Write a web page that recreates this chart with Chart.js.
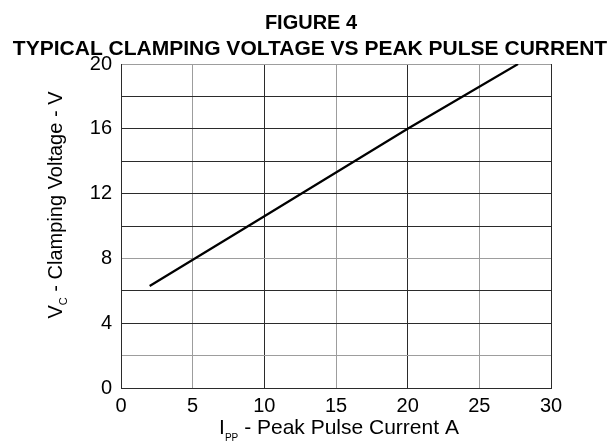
<!DOCTYPE html>
<html>
<head>
<meta charset="utf-8">
<script src="https://cdn.jsdelivr.net/npm/chart.js@4"></script>
<style>
  html, body { margin: 0; padding: 0; background: #fff; }
  canvas { display: block; }
</style>
</head>
<body>
<canvas id="fig4" width="613" height="446"></canvas>
<script>
// Figure 4 - typical clamping voltage vs peak pulse current

// values
const peakCurrentA = [2, 10, 20, 27.7];
const clampVoltageV = [6.3, 10.6, 16.0, 20];

// axis ticks
const currentTicks = [0, 5, 10, 15, 20, 25, 30];
const voltageTickLabels = [0, 4, 8, 12, 16, 20];
const voltageGridStep = 2;

const titleLines = ['FIGURE 4', 'TYPICAL CLAMPING VOLTAGE VS PEAK PULSE CURRENT'];

const FONT = '"Liberation Sans", Arial, Helvetica, sans-serif';
const DARK = '#2b2b2b';
const LIGHT = '#9d9d9d';

// text pieces: [text, font size, baseline shift]
function drawPieces(ctx, pieces, cx, baseY) {
  let total = 0;
  pieces.forEach(p => {
    ctx.font = p[1] + 'px ' + FONT;
    p.w = ctx.measureText(p[0]).width;
    total += p.w;
  });
  let x = cx - total / 2;
  ctx.textAlign = 'left';
  ctx.textBaseline = 'alphabetic';
  pieces.forEach(p => {
    ctx.font = p[1] + 'px ' + FONT;
    ctx.fillText(p[0], x, baseY + p[2]);
    x += p.w;
  });
}

// titles drawn by hand: the heading is centred on the whole page,
// and the axis titles need subscripts (V_C, I_PP)
const figureText = {
  id: 'figureText',
  afterDraw(chart) {
    const { ctx, chartArea } = chart;
    ctx.save();
    ctx.fillStyle = '#000';
    ctx.textAlign = 'center';
    ctx.textBaseline = 'alphabetic';
    ctx.font = 'bold 20px ' + FONT;
    ctx.fillText(titleLines[0], 311, 29);
    ctx.font = 'bold 21px ' + FONT;
    ctx.fillText(titleLines[1], 310, 55);

    const midX = (chartArea.left + chartArea.right) / 2;
    drawPieces(ctx, [['I', 21, 0], ['PP', 10, 7], [' - Peak Pulse Current A', 21, 0]], midX + 3, 434);

    const midY = (chartArea.top + chartArea.bottom) / 2;
    ctx.translate(62, midY - 21);
    ctx.rotate(-Math.PI / 2);
    drawPieces(ctx, [['V', 20, 0], ['C', 11, 5], [' - Clamping Voltage - V', 20, 0]], 0, 0);
    ctx.restore();
  }
};

new Chart(document.getElementById('fig4'), {
  type: 'line',
  data: {
    datasets: [{
      data: peakCurrentA.map((x, i) => ({ x: x, y: clampVoltageV[i] })),
      borderColor: '#000',
      borderWidth: 2.2,
      pointRadius: 0,
      tension: 0,
      fill: false
    }]
  },
  options: {
    responsive: false,
    animation: false,
    layout: { padding: { top: 64, left: 0, right: 62, bottom: 0 } },
    plugins: {
      legend: { display: false },
      tooltip: { enabled: false },
      title: { display: false }
    },
    scales: {
      x: {
        type: 'linear',
        min: 0,
        max: 30,
        afterBuildTicks: s => { s.ticks = currentTicks.map(v => ({ value: v })); },
        afterFit: s => { s.height = 58; },
        grid: {
          drawTicks: false,
          color: c => (c.tick && c.tick.value % 10 === 5) ? LIGHT : DARK
        },
        border: { color: DARK },
        ticks: { color: '#000', font: { family: FONT, size: 20 }, padding: 6, maxRotation: 0 }
      },
      y: {
        min: 0,
        max: 20,
        afterFit: s => { s.width = 121; },
        grid: {
          drawTicks: false,
          color: c => (c.tick && [2, 8, 20].includes(c.tick.value)) ? LIGHT : DARK
        },
        border: { color: DARK },
        ticks: {
          stepSize: voltageGridStep,
          color: '#000',
          font: { family: FONT, size: 20 },
          padding: 9,
          callback: v => voltageTickLabels.includes(v) ? String(v) : ''
        }
      }
    }
  },
  plugins: [figureText]
});
</script>
</body>
</html>
